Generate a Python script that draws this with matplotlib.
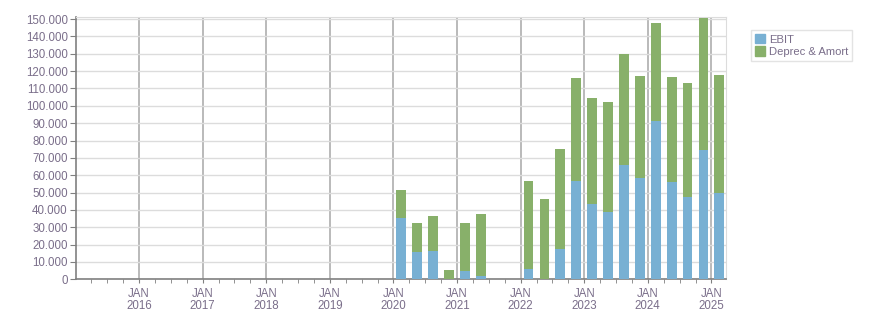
import matplotlib
matplotlib.use("Agg")
import matplotlib.pyplot as plt
from matplotlib.ticker import FuncFormatter, FixedLocator
from matplotlib.patches import Patch

plt.rcParams['font.family'] = ['Liberation Sans', 'DejaVu Sans']

# Quarterly data (year, quarter)
quarters = ["2020Q1", "2020Q2", "2020Q3", "2020Q4",
            "2021Q1", "2021Q2", "2021Q3", "2021Q4",
            "2022Q1", "2022Q2", "2022Q3", "2022Q4",
            "2023Q1", "2023Q2", "2023Q3", "2023Q4",
            "2024Q1", "2024Q2", "2024Q3", "2024Q4",
            "2025Q1"]
ebit = [35300, 15900, 16300, 0,
        4800, 2100, 0, 0,
        5900, 0, 17500, 56700,
        43600, 39000, 65900, 58600,
        91200, 56300, 47400, 74500,
        49700]
deprec_amort = [16200, 16500, 20200, 5400,
                27600, 35500, 0, 0,
                50800, 46300, 57500, 59300,
                60900, 63200, 64000, 58600,
                56500, 60300, 65700, 76000,
                68100]
year_labels = ["2016", "2017", "2018", "2019", "2020", "2021", "2022", "2023", "2024", "2025"]

blue = "#78b0d3"
green = "#88b06a"
label_col = "#7a6e8a"

fig = plt.figure(figsize=(8.76, 3.13), dpi=100)
ax = fig.add_axes([0.0868, 0.1077, 0.742, 0.838])

def qpos(q):
    y = int(q[:4]); n = int(q[-1])
    return y + (n - 1) * 0.25 + 0.125

xs = [qpos(q) for q in quarters]
w = 0.25 * 0.62
ax.bar(xs, ebit, width=w, color=blue, zorder=3, label="EBIT")
ax.bar(xs, deprec_amort, width=w, bottom=ebit, color=green, zorder=3, label="Deprec & Amort")

ax.set_xlim(2015.01, 2025.23)
ax.set_ylim(0, 151200)

years = [int(y) for y in year_labels]
ax.xaxis.set_major_locator(FixedLocator(years))
ax.set_xticklabels(["JAN\n" + y for y in year_labels])
ax.xaxis.set_minor_locator(FixedLocator([2015.25 + 0.25 * i for i in range(40)]))
ax.set_yticks(range(0, 150001, 10000))
ax.yaxis.set_major_formatter(FuncFormatter(lambda v, p: "0" if v == 0 else f"{int(v):,}".replace(",", ".")))

ax.grid(axis="y", color="#dcdcdc", linewidth=1.0, zorder=0)
ax.grid(axis="x", which="major", color="#b4b4b4", linewidth=1.3, zorder=1)

for s in ["top", "right"]:
    ax.spines[s].set_color("#dcdcdc")
for s in ["left", "bottom"]:
    ax.spines[s].set_color("#808080")
    ax.spines[s].set_linewidth(1.2)

ax.tick_params(axis="y", length=4, color="#808080", labelsize=8.3, labelcolor=label_col, pad=2)
ax.tick_params(axis="x", which="major", length=3, color="#808080", labelsize=8.3, labelcolor=label_col, pad=3)
ax.tick_params(axis="x", which="minor", length=3, color="#808080")
for t in ax.get_xticklabels():
    t.set_linespacing(1.05)

handles = [Patch(color=blue, label="EBIT"), Patch(color=green, label="Deprec & Amort")]
leg = fig.legend(handles=handles, loc="upper left", bbox_to_anchor=(0.857, 0.904),
                 fontsize=8.1, frameon=True, fancybox=False, edgecolor="#dcdcdc",
                 handlelength=0.9, handleheight=0.9, handletextpad=0.35,
                 borderpad=0.35, labelspacing=0.15, borderaxespad=0)
for t in leg.get_texts():
    t.set_color(label_col)

fig.savefig("out.png", dpi=100)
